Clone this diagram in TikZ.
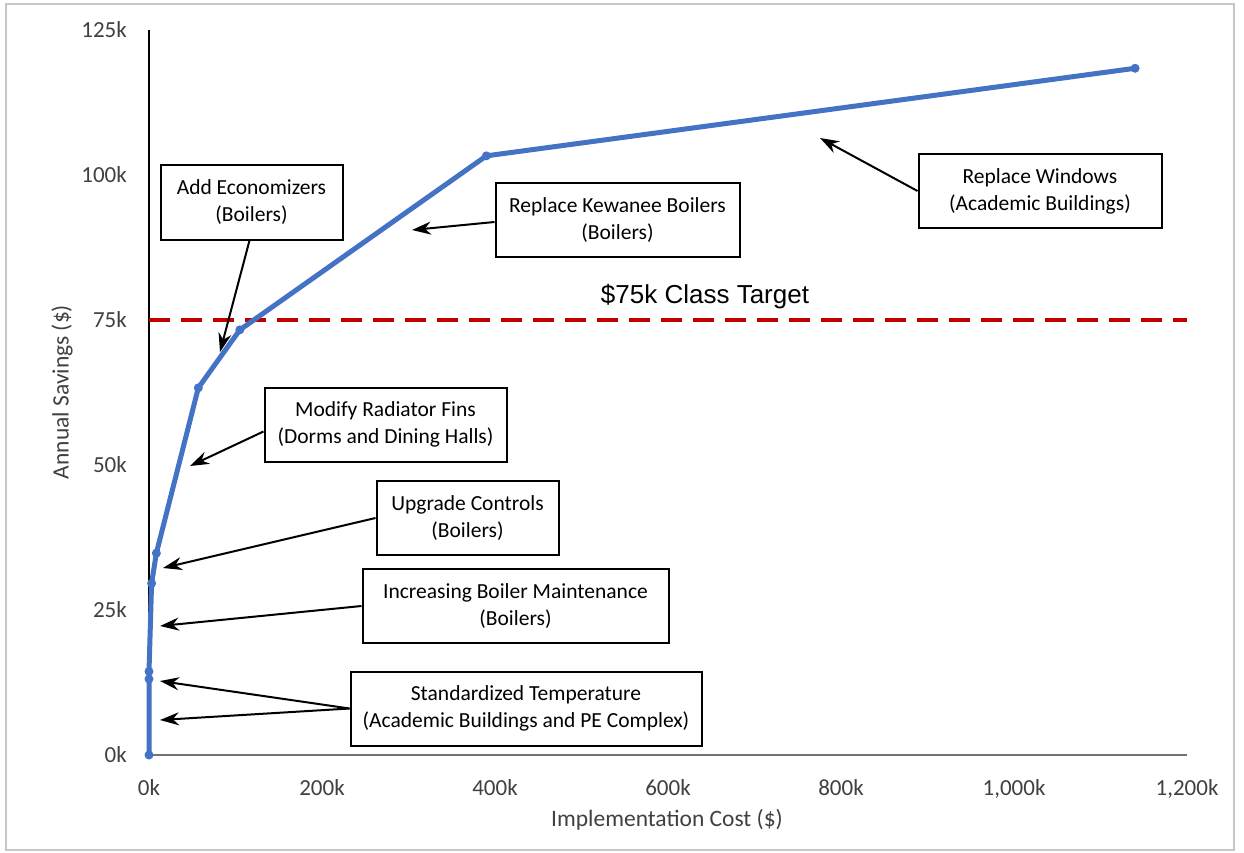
\documentclass[tikz,border=0pt]{standalone}
\usepackage{fontspec}
\setmainfont{Carlito}
\newfontfamily\arialfont{Liberation Sans}
\usetikzlibrary{arrows.meta}

\definecolor{lineblue}{HTML}{4472C4}
\definecolor{targetred}{HTML}{C00000}
\definecolor{ticktext}{HTML}{404040}

\tikzset{
  callout/.style={draw, line width=2pt, align=center, inner sep=0pt,
    minimum height=74pt, font=\fontsize{21.5}{27}\selectfont},
  pointer/.style={-{Stealth[length=19pt,width=13pt]}, line width=2pt},
  ticklabel/.style={text=ticktext, inner sep=0pt, font=\fontsize{23}{27}\selectfont},
  axistitle/.style={text=ticktext, inner sep=0pt, font=\fontsize{23.5}{27}\selectfont},
  datadot/.style={fill=lineblue, circle, inner sep=0pt, minimum size=9pt},
}

\begin{document}
\begin{tikzpicture}[x=1pt, y=-1pt]
\useasboundingbox (0,0) rectangle (1244,853);
\draw[black!22, line width=2pt] (6,4) rectangle (1234,850);

% axes
\coordinate (o) at (149,755);
\coordinate (xend) at (1187,755);
\coordinate (ytop) at (149,30);
\draw[black!55, line width=1.3pt] (o) -- (xend);
\draw[line width=1.3pt] (o) -- (ytop);

\foreach \v/\t in {0/0k, 25/25k, 50/50k, 75/75k, 100/100k, 125/125k}
  \node[ticklabel, anchor=east] (ytick\v) at (127, {755-5.8*\v}) {\t};
\foreach \v/\t in {0/0k, 200/200k, 400/400k, 600/600k, 800/800k, 1000/{1,000k}, 1200/{1,200k}}
  \node[ticklabel, anchor=base] (xtick\v) at ({149+0.865*\v}, 795) {\t};

\node[axistitle, rotate=90] (ytitle) at (62,392) {Annual Savings (\$)};
\node[axistitle] (xtitle) at (667,820) {Implementation Cost (\$)};

% data, in k$
\begin{scope}[shift={(149,755)}, x=0.865pt, y=5.8pt]
  \coordinate (d0) at (0,0);
  \coordinate (d1) at (0,13.1);
  \coordinate (d2) at (0,14.4);
  \coordinate (d3) at (3,29.6);
  \coordinate (d4) at (8.5,34.8);
  \coordinate (d5) at (57,63.3);
  \coordinate (d6) at (105,73.3);
  \coordinate (d7) at (390,103.3);
  \coordinate (d8) at (1140,118.4);
  \coordinate (t0) at (0,75);
  \coordinate (t1) at (1200,75);
\end{scope}

\draw[targetred, line width=4.5pt, dash pattern=on 21pt off 11pt] (t0) -- (t1);
\node[font=\arialfont\fontsize{26}{30}\selectfont, inner sep=0pt] (target) at (705,297) {\$75k Class Target};

\draw[lineblue, line width=5pt, line join=round]
  (d0) -- (d1) -- (d2) -- (d3) -- (d4) -- (d5) -- (d6) -- (d7) -- (d8);
\foreach \i in {0,...,8}
  \node[datadot] (dot\i) at (d\i) {};

% callouts
\node[callout, minimum width=182pt] (econ) at (251.5,202.5) {Add Economizers\\(Boilers)};
\node[callout, minimum width=244pt] (kewanee) at (617.5,220) {Replace Kewanee Boilers\\(Boilers)};
\node[callout, minimum width=243pt] (windows) at (1040,191) {Replace Windows\\(Academic Buildings)};
\node[callout, minimum width=242pt] (fins) at (385.5,424.5) {Modify Radiator Fins\\(Dorms and Dining Halls)};
\node[callout, minimum width=182pt] (controls) at (467.5,518) {Upgrade Controls\\(Boilers)};
\node[callout, minimum width=306pt] (maint) at (515.5,606) {Increasing Boiler Maintenance\\(Boilers)};
\node[callout, minimum width=351pt] (temp) at (526,708.5) {Standardized Temperature\\(Academic Buildings and PE Complex)};

\coordinate (a1) at (220,352);
\coordinate (a2) at (412,230);
\coordinate (a3) at (820,138);
\coordinate (a4) at (190,466);
\coordinate (a5) at (163,568);
\coordinate (a6) at (160,626);
\coordinate (a7) at (160,681);
\coordinate (a8) at (160,720);

\draw[pointer] ([xshift=-2pt]econ.south) -- (a1);
\draw[pointer] ([yshift=-2pt]kewanee.west) -- (a2);
\draw[pointer] (windows.west) -- (a3);
\draw[pointer] ([yshift=-7pt]fins.west) -- (a4);
\draw[pointer] (controls.west) -- (a5);
\draw[pointer] (maint.west) -- (a6);
\draw[pointer] (temp.west) -- (a7);
\draw[pointer] (temp.west) -- (a8);
\end{tikzpicture}
\end{document}
